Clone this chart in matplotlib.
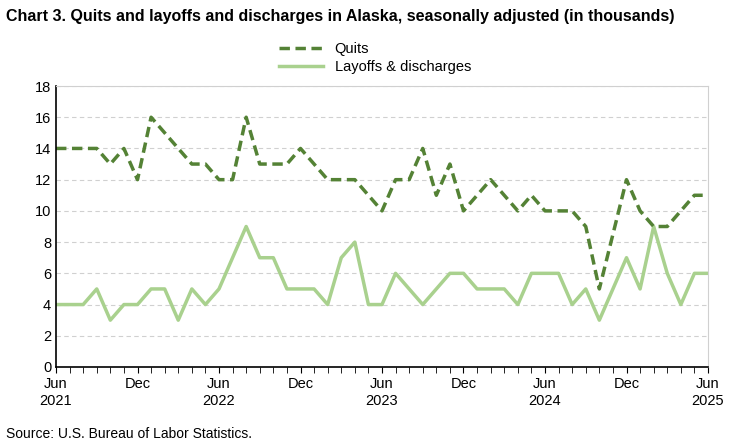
import matplotlib
matplotlib.use("Agg")
import matplotlib.pyplot as plt
from matplotlib.lines import Line2D

plt.rcParams["font.family"] = "Liberation Sans"

quits = [14,14,14,14,13,14,12,16,15,14,13,13,12,12,16,13,13,13,14,13,12,12,12,11,10,
         12,12,14,11,13,10,11,12,11,10,11,10,10,10,9,5,8.5,12,10,9,9,10,11,11]
layoffs = [4,4,4,5,3,4,4,5,5,3,5,4,5,7,9,7,7,5,5,5,4,7,8,4,4,
           6,5,4,5,6,6,5,5,5,4,6,6,6,4,5,3,5,7,5,9,6,4,6,6]
tick_labels = ["Jun\n2021","Dec","Jun\n2022","Dec","Jun\n2023","Dec","Jun\n2024","Dec","Jun\n2025"]

fig = plt.figure(figsize=(7.5,4.46), dpi=100)
ax = fig.add_axes([56/750, 1-367/446, (708-56)/750, (367-86)/446])
x = range(len(quits))
dark = "#548235"; light = "#A9D18E"
ax.plot(x, layoffs, color=light, lw=2.5, label="Layoffs & discharges")
ax.plot(x, quits, color=dark, lw=2.5, ls=(0,(3,1.6)), label="Quits")
ax.set_xlim(0, len(quits)-1)
ax.set_ylim(0, 18)
ax.set_yticks(range(0,19,2))
ax.set_xticks(range(0,len(quits),6))
ax.set_xticklabels(tick_labels, fontsize=10.5)
ax.set_xticks(range(len(quits)), minor=True)
ax.tick_params(axis="x", which="both", direction="out", length=4, color="black")
ax.tick_params(axis="y", length=0, labelsize=10.5)
ax.grid(axis="y", color="#d0d0d0", ls=(0,(4,3)), lw=0.8)
ax.set_axisbelow(True)
for s in ["top","right"]:
    ax.spines[s].set_color("#d0d0d0")
for s in ["left","bottom"]:
    ax.spines[s].set_color("black")
    ax.spines[s].set_linewidth(1.2)

handles = [Line2D([],[],color=dark,lw=2.5,ls=(0,(3,1.6))), Line2D([],[],color=light,lw=2.5)]
fig.legend(handles, ["Quits","Layoffs & discharges"], loc="center", bbox_to_anchor=(0.5, 1-58/446),
           ncol=1, frameon=False, fontsize=10.5, handlelength=3, labelspacing=0.3)
fig.text(6/750, 1-16/446, "Chart 3. Quits and layoffs and discharges in Alaska, seasonally adjusted (in thousands)",
         fontsize=11.5, fontweight="bold", va="center")
fig.text(6/750, 1-434/446, "Source: U.S. Bureau of Labor Statistics.", fontsize=10, va="center")
fig.savefig("out.png", dpi=100)
